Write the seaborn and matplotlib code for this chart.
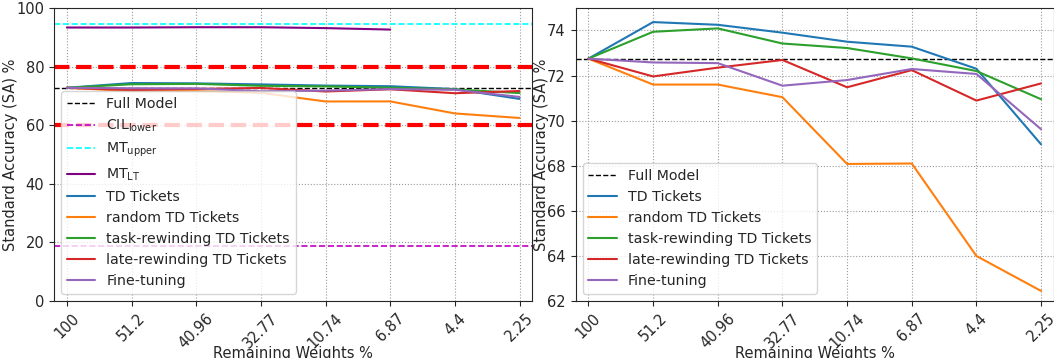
import numpy as np
import pandas as pd
import matplotlib
matplotlib.use('Agg')
import matplotlib.pyplot as plt
import seaborn as sns

# remaining weights (categorical x axis)
weights = ['100', '51.2', '40.96', '32.77', '10.74', '6.87', '4.4', '2.25']

# standard accuracy per method
td_tickets = [72.75, 74.37, 74.25, 73.90, 73.50, 73.28, 72.30, 68.95]
random_td = [72.75, 71.60, 71.60, 71.04, 68.08, 68.10, 64.00, 62.45]
task_rewind = [72.75, 73.94, 74.09, 73.42, 73.22, 72.76, 72.20, 70.95]
late_rewind = [72.75, 71.96, 72.35, 72.69, 71.48, 72.24, 70.89, 71.65]
fine_tuning = [72.75, 72.58, 72.55, 71.55, 71.80, 72.29, 72.07, 69.62]

# reference levels
full_model = 72.75
cil_lower = 18.8
mt_upper = 94.4
mt_lt = [93.3, 93.3, 93.4, 93.4, 93.1, 92.6]
red_lines = [80, 60]

series = [
    ('TD Tickets', td_tickets),
    ('random TD Tickets', random_td),
    ('task-rewinding TD Tickets', task_rewind),
    ('late-rewinding TD Tickets', late_rewind),
    ('Fine-tuning', fine_tuning),
]

sns.set_style('ticks', rc={'axes.grid': True, 'grid.linestyle': ':', 'grid.color': '0.6',
                           'axes.edgecolor': '0.15',
                           'xtick.major.size': 3, 'ytick.major.size': 3,
                           'xtick.major.pad': 1.5, 'ytick.major.pad': 1})
plt.rcParams['font.family'] = ['DejaVu Sans']
plt.rcParams['mathtext.default'] = 'regular'

colors = sns.color_palette('tab10')
x = np.arange(len(weights))
fs = 10.5

fig, axes = plt.subplots(1, 2, figsize=(10.54, 3.58), dpi=100)
fig.subplots_adjust(left=0.0512, right=1.0, bottom=0.159, top=0.978, wspace=0.09)

for i, ax in enumerate(axes):
    ax.axhline(full_model, color='black', ls='--', lw=1, label='Full Model')
    if i == 0:
        ax.axhline(cil_lower, color='m', ls='--', lw=1.2, label=r'CIL$_{lower}$')
        ax.axhline(mt_upper, color='cyan', ls='--', lw=1.2, label=r'MT$_{upper}$')
        sns.lineplot(x=x[:len(mt_lt)], y=mt_lt, ax=ax, color='purple', lw=1.5, label=r'MT$_{LT}$')
        for r in red_lines:
            ax.axhline(r, color='red', ls='--', lw=3)
    for j, (name, vals) in enumerate(series):
        sns.lineplot(x=x, y=vals, ax=ax, color=colors[j], lw=1.5, label=name)
    ax.set_xticks(x)
    ax.set_xticklabels(weights, rotation=45, fontsize=fs)
    ax.tick_params(axis='y', labelsize=fs)
    ax.set_xlim(-0.2, 7.2)
    ax.set_xlabel('Remaining Weights %', fontsize=fs, labelpad=-3.5)
    ax.set_ylabel('Standard Accuracy (SA) %', fontsize=fs, labelpad=-1.5)
    ax.legend(loc='lower left', fontsize=10.2, labelspacing=0.5)

axes[0].set_ylim(0, 100)
axes[0].set_yticks([0, 20, 40, 60, 80, 100])
axes[1].set_ylim(62, 75)
axes[1].set_yticks([62, 64, 66, 68, 70, 72, 74])

plt.savefig('out.png', dpi=100)
